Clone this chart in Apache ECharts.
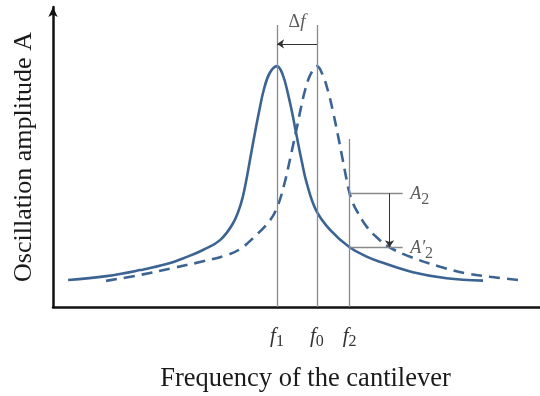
<!DOCTYPE html>
<html>
<head>
<meta charset="utf-8">
<script src="https://cdn.jsdelivr.net/npm/echarts@6/dist/echarts.min.js"></script>
<style>
  html, body { margin: 0; padding: 0; background: #fff; }
  #chart { width: 540px; height: 396px; }
</style>
</head>
<body>
<div id="chart"></div>
<script>
// Resonance curves of the cantilever: free (dashed, peak at f0) and loaded (solid, peak at f1)
const solidCurve = [
  [3.1, 9.0], [11.0, 10.3], [17.9, 12.3], [23.3, 14.3], [27.5, 16.7], [30.8, 19.0],
  [34.3, 22.3], [37.0, 28.0], [38.6, 34.5], [39.6, 41.5], [40.5, 49.5], [41.4, 57.5],
  [42.3, 65.0], [43.3, 72.5], [44.5, 78.0], [46.0, 80.3], [47.2, 77.3], [48.3, 70.7],
  [49.2, 64.0], [50.0, 57.3], [51.1, 48.4], [52.1, 41.3], [54.0, 32.3], [56.9, 25.7],
  [60.9, 19.9], [64.4, 16.8], [67.1, 15.1], [73.9, 11.6], [80.8, 9.6], [88.3, 8.8]
];
const dashedCurve = [
  [10.9, 8.7], [17.9, 10.7], [24.6, 13.0], [30.2, 15.0], [35.7, 17.3], [38.4, 19.3],
  [41.1, 23.0], [44.6, 29.0], [46.2, 34.0], [47.5, 41.0], [48.5, 48.0], [49.3, 54.0],
  [50.1, 60.0], [50.9, 66.3], [51.8, 72.5], [52.9, 77.6], [54.2, 80.3], [55.4, 77.3],
  [56.5, 71.8], [57.5, 65.1], [58.5, 57.3], [59.3, 50.7], [60.3, 42.3], [60.9, 37.9],
  [61.6, 34.6], [62.4, 32.0], [64.4, 26.8], [67.1, 22.3], [69.0, 20.0], [72.6, 17.2],
  [79.5, 13.4], [84.9, 11.2], [89.7, 10.1], [96.5, 8.8]
];

// marked frequencies and their tick labels
const freqTicks = [46.0, 54.2, 60.9];          // f1, f0, f2
const freqTickLabels = ['{f|f}{s|1}', '{f|f}{s|0}', '{f|f}{s|2}'];
const [f1, f0, f2] = freqTicks;

// amplitudes read at f2 on the two curves
const ampA2 = 37.9;
const ampA2prime = 19.9;

const axisTitleX = 'Frequency of the cantilever';
const axisTitleY = 'Oscillation amplitude A';

const curveColor = '#3c6493';
const guideColor = '#8a8a8a';
const mathFont = '"Liberation Serif", "DejaVu Serif", serif';

const guideTop = 94;     // upper end of the f1 / f0 markers
const f2Top = 56;        // upper end of the f2 marker
const shiftLevel = 87.7; // height of the Δf arrow
const ampLineEnd = 71.8; // right end of the A2 / A'2 leaders
const ampArrowX = 69.1;  // x of the amplitude drop arrow

const chart = echarts.init(document.getElementById('chart'), null, { renderer: 'canvas' });

chart.setOption({
  animation: false,
  backgroundColor: '#fff',
  grid: { left: 53, right: 0, top: 7, bottom: 89, containLabel: false, outerBoundsMode: 'none' },
  xAxis: {
    type: 'value', min: 0, max: 100,
    splitLine: { show: false },
    axisTick: { show: false },
    axisLine: { show: true, onZero: false, lineStyle: { color: '#111', width: 2.5 } },
    axisLabel: {
      show: true,
      customValues: freqTicks,
      margin: 18,
      formatter: function (v) {
        const i = freqTicks.indexOf(v);
        return i >= 0 ? freqTickLabels[i] : '';
      },
      rich: {
        f: { fontFamily: mathFont, fontStyle: 'italic', fontSize: 21, color: '#333', lineHeight: 22, verticalAlign: 'bottom' },
        s: { fontFamily: mathFont, fontSize: 16, color: '#333', lineHeight: 22, verticalAlign: 'bottom', padding: [0, 0, -3, 0] }
      }
    },
    name: axisTitleX,
    nameLocation: 'middle',
    nameGap: 59,
    nameTextStyle: { fontFamily: '"Liberation Serif", serif', fontSize: 26.5, color: '#1a1a1a', padding: [0, 0, 0, 18] }
  },
  yAxis: {
    type: 'value', min: 0, max: 100,
    splitLine: { show: false },
    axisTick: { show: false },
    axisLabel: { show: false },
    axisLine: {
      show: true, onZero: false,
      symbol: ['none', 'arrow'], symbolSize: [7, 10],
      lineStyle: { color: '#111', width: 2.5 }
    },
    name: axisTitleY,
    nameLocation: 'middle',
    nameRotate: 90,
    nameGap: 16,
    nameTextStyle: { fontFamily: '"Liberation Serif", serif', fontSize: 26, color: '#1a1a1a' }
  },
  series: [
    {
      name: 'free', type: 'line', data: dashedCurve, showSymbol: false, symbol: 'none',
      smooth: 0.4, z: 3,
      lineStyle: { color: curveColor, width: 2.6, type: [11, 7] }
    },
    {
      name: 'loaded', type: 'line', data: solidCurve, showSymbol: false, symbol: 'none',
      smooth: 0.4, z: 3,
      lineStyle: { color: curveColor, width: 2.6 }
    },
    {
      name: 'markers', type: 'lines', coordinateSystem: 'cartesian2d', z: 4,
      symbol: 'none', silent: true,
      lineStyle: { color: guideColor, width: 1.3, opacity: 1 },
      data: [
        { coords: [[f1, 0], [f1, guideTop]] },
        { coords: [[f0, 0], [f0, guideTop]] },
        { coords: [[f2, 0], [f2, f2Top]] },
        { coords: [[f2, ampA2], [ampLineEnd, ampA2]] },
        { coords: [[f2, ampA2prime], [ampLineEnd, ampA2prime]] }
      ]
    },
    {
      name: 'arrows', type: 'lines', coordinateSystem: 'cartesian2d', z: 5,
      symbol: ['none', 'arrow'], symbolSize: 7, silent: true,
      lineStyle: { color: '#333', width: 1, opacity: 1 },
      data: [
        { coords: [[f0, shiftLevel], [f1, shiftLevel]] },
        { coords: [[ampArrowX, ampA2], [ampArrowX, ampA2prime]] }
      ]
    },
    {
      name: 'notes', type: 'scatter', symbolSize: 1, silent: true, z: 6,
      itemStyle: { color: 'rgba(0,0,0,0)' },
      label: {
        show: true, color: '#333',
        rich: {
          a: { fontFamily: mathFont, fontStyle: 'italic', fontSize: 18, color: '#333', lineHeight: 20, verticalAlign: 'bottom' },
          s: { fontFamily: mathFont, fontSize: 16, color: '#333', lineHeight: 20, verticalAlign: 'bottom', padding: [0, 0, -4, 0] },
          d: { fontFamily: mathFont, fontSize: 18, color: '#333' },
          fi: { fontFamily: mathFont, fontStyle: 'italic', fontSize: 19, color: '#333' }
        }
      },
      data: [
        { value: [ampLineEnd, ampA2], label: { position: 'right', distance: 7, formatter: '{a|A}{s|2}' } },
        { value: [ampLineEnd, ampA2prime], label: { position: 'right', distance: 7, formatter: '{a|A′}{s|2}' } },
        { value: [(f0 + f1) / 2, shiftLevel], label: { position: 'top', distance: 12, formatter: '{d|Δ}{fi|f}' } }
      ]
    }
  ]
});
</script>
</body>
</html>
